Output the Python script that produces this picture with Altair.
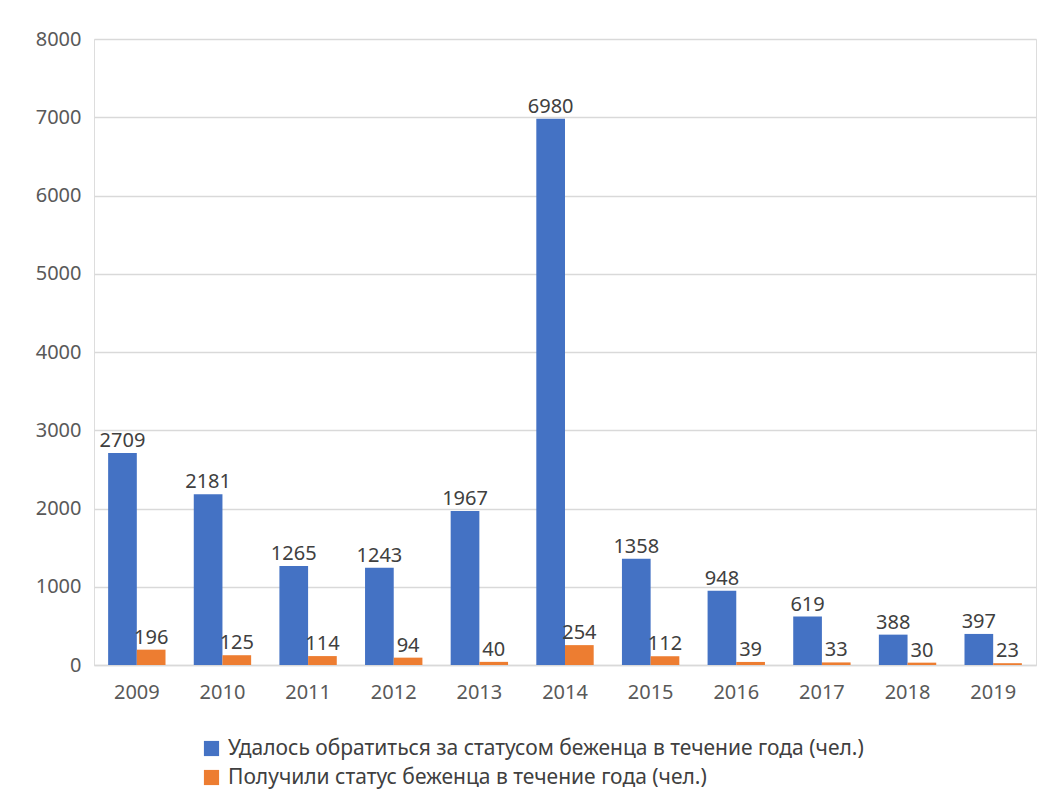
import altair as alt
import pandas as pd

years = ["2009", "2010", "2011", "2012", "2013", "2014", "2015", "2016", "2017", "2018", "2019"]
applied = [2709, 2181, 1265, 1243, 1967, 6980, 1358, 948, 619, 388, 397]
granted = [196, 125, 114, 94, 40, 254, 112, 39, 33, 30, 23]
series_names = [
    "Удалось обратиться за статусом беженца в течение года (чел.)",
    "Получили статус беженца в течение года (чел.)",
]
colors = ["#4472C4", "#ED7D31"]

rows = []
for y, a, g in zip(years, applied, granted):
    rows.append({"year": y, "series": series_names[0], "value": a})
    rows.append({"year": y, "series": series_names[1], "value": g})
df = pd.DataFrame(rows)

FONT = "Noto Sans"
FS = 20

base = alt.Chart(df).encode(
    x=alt.X("year:N", sort=years,
            scale=alt.Scale(paddingInner=0.33, paddingOuter=0.165),
            axis=alt.Axis(title=None, labelAngle=0, labelFontSize=FS, labelColor="#595959",
                          labelFont=FONT, labelPadding=17, ticks=False,
                          domainColor="#D9D9D9", domainWidth=1.5)),
    xOffset=alt.XOffset("series:N", sort=series_names,
                        scale=alt.Scale(paddingInner=0, paddingOuter=0)),
    y=alt.Y("value:Q", scale=alt.Scale(domain=[0, 8000]),
            axis=alt.Axis(title=None, values=list(range(0, 8001, 1000)), format="d",
                          labelFontSize=FS, labelColor="#595959", labelFont=FONT,
                          labelPadding=13, ticks=False, domain=False,
                          gridColor="#D9D9D9", gridWidth=1.5)),
)

bars = base.mark_bar().encode(
    color=alt.Color("series:N", sort=series_names,
                    scale=alt.Scale(domain=series_names, range=colors),
                    legend=alt.Legend(title=None, orient="none", legendX=107, legendY=699,
                                      direction="vertical", symbolType="square",
                                      symbolSize=230, symbolStrokeWidth=0,
                                      labelFontSize=21, labelFont=FONT, labelOffset=6,
                                      labelColor="#404040", rowPadding=7,
                                      labelLimit=1000))
)

labels = base.mark_text(baseline="alphabetic", dy=-6, fontSize=FS, font=FONT,
                        color="#404040").encode(text="value:Q")

chart = (bars + labels).properties(
    width=942, height=626,
    padding={"left": 27, "top": 21, "right": 6, "bottom": 10},
).configure_view(stroke=None).configure(background="white")

chart.save("out.html", embed_options={"renderer": "svg", "actions": False})
